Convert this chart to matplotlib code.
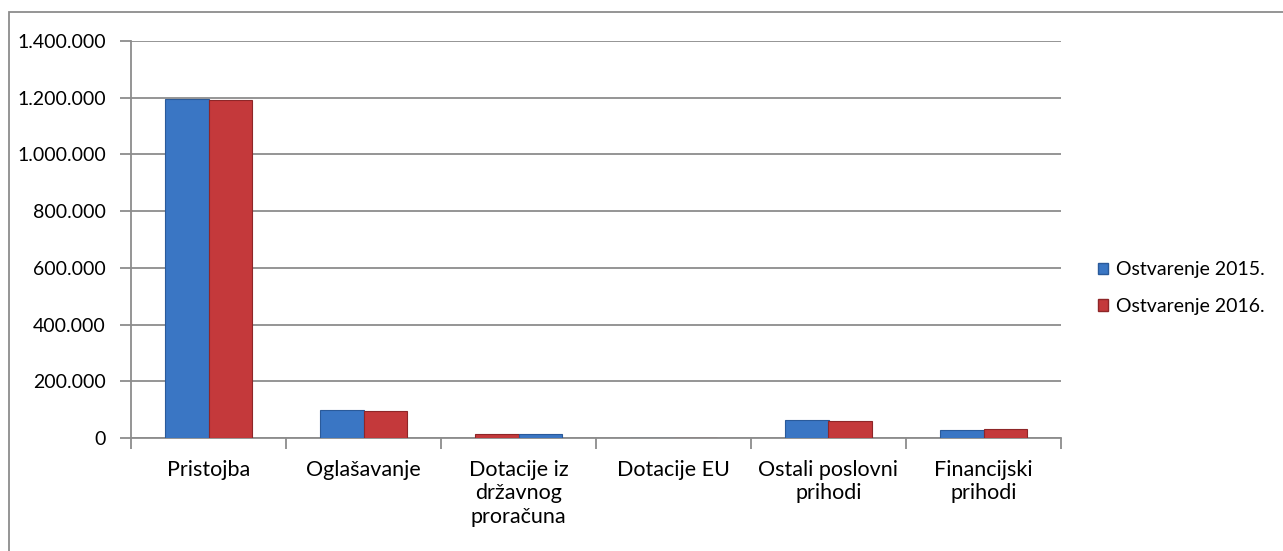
import matplotlib
matplotlib.use("Agg")
import matplotlib.pyplot as plt
from matplotlib.patches import Rectangle, Patch
import numpy as np

categories = ["Pristojba", "Oglašavanje", "Dotacije iz\ndržavnog\nproračuna",
              "Dotacije EU", "Ostali poslovni\nprihodi", "Financijski\nprihodi"]
series_names = ["Ostvarenje 2015.", "Ostvarenje 2016."]
values_2015 = [1195000, 98000, 15000, 0, 62500, 27000]
values_2016 = [1193000, 95000, 13000, 0, 60000, 33000]
yticks = [0, 200000, 400000, 600000, 800000, 1000000, 1200000, 1400000]
ytick_labels = ["0", "200.000", "400.000", "600.000", "800.000",
                "1.000.000", "1.200.000", "1.400.000"]

BLUE = "#3A76C4"
RED = "#C4393B"
BLUE_EDGE = "#2A5A9A"
RED_EDGE = "#8E2628"

plt.rcParams['font.family'] = ['Lato', 'DejaVu Sans']

fig = plt.figure(figsize=(12.83, 5.51), dpi=100)
ax = fig.add_axes([131/1283, 1 - 438/551, 930/1283, 397/551])

x = np.arange(len(categories))
w = 0.28
cols_a = [BLUE] * len(categories)
cols_b = [RED] * len(categories)
edge_a = [BLUE_EDGE] * len(categories)
edge_b = [RED_EDGE] * len(categories)
# in the reference, the colours of the third category appear swapped
cols_a[2], cols_b[2] = RED, BLUE
edge_a[2], edge_b[2] = RED_EDGE, BLUE_EDGE

ax.bar(x - w/2, values_2015, width=w, color=cols_a, edgecolor=edge_a, linewidth=0.8, zorder=3)
ax.bar(x + w/2, values_2016, width=w, color=cols_b, edgecolor=edge_b, linewidth=0.8, zorder=3)

ax.set_xlim(-0.5, len(categories) - 0.5)
ax.set_ylim(0, 1400000)
ax.set_yticks(yticks)
ax.set_yticklabels(ytick_labels, fontsize=14)
ax.yaxis.grid(True, color="#8C8C8C", linewidth=1.3, zorder=0)
ax.set_axisbelow(True)

ax.set_xticks(np.arange(len(categories) + 1) - 0.5)
ax.set_xticklabels([])
ax.set_xticks(x, minor=True)
ax.set_xticklabels(categories, minor=True, fontsize=15.5, linespacing=1.2, va="top")
ax.tick_params(axis="x", which="minor", length=0, pad=16)
ax.tick_params(axis="x", which="major", length=8, color="#8C8C8C", width=1.3)
ax.tick_params(axis="y", length=8, color="#8C8C8C", width=1.3, pad=10)

for s in ["top", "right"]:
    ax.spines[s].set_visible(False)
for s in ["left", "bottom"]:
    ax.spines[s].set_color("#8C8C8C")
    ax.spines[s].set_linewidth(1.3)

handles = [Patch(facecolor=BLUE, edgecolor=BLUE_EDGE), Patch(facecolor=RED, edgecolor=RED_EDGE)]
fig.legend(handles, series_names, loc="center left", bbox_to_anchor=(1080/1283, 1 - 288/551),
           frameon=False, fontsize=14, handlelength=0.55, handleheight=0.55,
           handletextpad=0.4, labelspacing=1.0)

fig.patches.append(Rectangle((9/1283, -0.1), 1.2, 1 - 12/551 + 0.1, transform=fig.transFigure,
                             fill=False, edgecolor="#8C8C8C", linewidth=1.3))

fig.savefig("out.png", dpi=100)
